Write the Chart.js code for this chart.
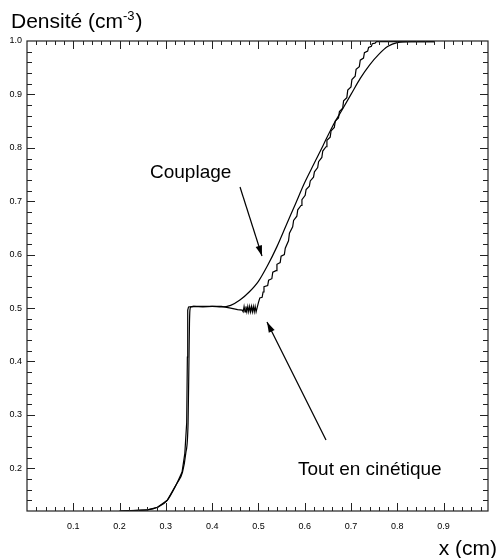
<!DOCTYPE html>
<html>
<head>
<meta charset="utf-8">
<script src="https://cdn.jsdelivr.net/npm/chart.js@4"></script>
<style>
html,body{margin:0;padding:0;background:#fff;}
canvas{display:block;}
</style>
</head>
<body>
<canvas id="densite" width="498" height="558"></canvas>
<script>
// courbe "Couplage" (lisse)
const couplageX = [0.20,0.26,0.282,0.303,0.324,0.336,0.343,0.348,0.350,0.351,0.352,0.354,0.36,0.38,0.40,0.42,0.44,0.46,0.48,0.50,0.52,0.54,0.56,0.58,0.60,0.62,0.64,0.66,0.68,0.70,0.72,0.74,0.76,0.78,0.80,0.83,0.88];
const couplageY = [0.12,0.122,0.127,0.140,0.172,0.193,0.228,0.285,0.408,0.47,0.496,0.502,0.503,0.503,0.503,0.502,0.505,0.515,0.53,0.55,0.58,0.615,0.655,0.695,0.735,0.77,0.805,0.84,0.87,0.90,0.93,0.955,0.975,0.99,0.997,0.999,0.999];

// courbe "Tout en cinétique" (en escalier)
const cinetiqueX = [0.20,0.26,0.282,0.303,0.324,0.335,0.341,0.345,0.3465,0.347,0.3475,0.349,0.36,0.38,0.40,0.42,0.44,0.455,0.465,
  0.467,0.469,0.471,0.473,0.475,0.477,0.479,0.481,0.483,0.485,0.487,0.489,0.491,0.493,0.495,0.497,
  0.500,0.503,0.508,0.510,0.512,0.520,0.522,0.529,0.531,0.538,0.540,0.547,0.549,0.556,0.558,0.565,0.567,0.574,0.576,0.583,0.585,0.592,0.594,
  0.601,0.603,0.610,0.612,0.619,0.621,0.628,0.630,0.637,0.639,0.646,0.648,0.655,0.657,0.664,0.666,0.673,0.675,0.682,0.684,0.691,0.693,
  0.700,0.702,0.709,0.711,0.718,0.720,0.727,0.729,0.736,0.738,0.744,0.746,0.752,0.755,0.80,0.88];
const cinetiqueY = [0.12,0.122,0.127,0.140,0.172,0.193,0.228,0.285,0.408,0.47,0.496,0.502,0.503,0.502,0.503,0.503,0.500,0.497,0.496,
  0.493,0.503,0.493,0.503,0.493,0.503,0.493,0.503,0.493,0.503,0.493,0.503,0.493,0.503,0.493,0.500,
  0.510,0.519,0.520,0.530,0.540,0.542,0.552,0.555,0.567,0.570,0.582,0.585,0.597,0.600,0.612,0.626,0.640,0.652,0.664,0.672,0.684,0.692,0.703,
  0.711,0.722,0.728,0.738,0.745,0.755,0.763,0.774,0.782,0.794,0.802,0.814,0.820,0.832,0.838,0.850,0.856,0.868,0.874,0.888,0.894,0.908,
  0.914,0.928,0.934,0.947,0.952,0.964,0.968,0.978,0.981,0.988,0.990,0.995,0.996,0.999,0.999,0.999];

const xLabels = ["0.1","0.2","0.3","0.4","0.5","0.6","0.7","0.8","0.9"];
const yLabels = ["0.2","0.3","0.4","0.5","0.6","0.7","0.8","0.9","1.0"];

function pts(xs, ys){
  return xs.map((x,i)=>({x:x, y:ys[i]}));
}

const police = "'Liberation Sans', Arial, sans-serif";

// cadre, graduations vers l'interieur, textes et fleches
const decor = {
  id:"decor",
  afterDraw(chart){
    const c = chart.ctx;
    const a = chart.chartArea;
    const sx = chart.scales.x, sy = chart.scales.y;
    c.save();
    c.strokeStyle = "#222";
    c.lineWidth = 1.2;
    c.strokeRect(a.left, a.top, a.right-a.left, a.bottom-a.top);
    c.lineWidth = 1;
    c.beginPath();
    for(let i=1;i<50;i++){
      let px = Math.round(sx.getPixelForValue(i*0.02))+0.5;
      if(px>a.right-1) break;
      let l = (i%5==0) ? 8 : 4;
      c.moveTo(px,a.bottom); c.lineTo(px,a.bottom-l);
      c.moveTo(px,a.top); c.lineTo(px,a.top+l);
    }
    for(let i=7;i<50;i++){
      let py = Math.round(sy.getPixelForValue(i*0.02))+0.5;
      if(py<a.top+1) break;
      let l = (i%5==0) ? 8 : 5;
      c.moveTo(a.left,py); c.lineTo(a.left+l,py);
      c.moveTo(a.right,py); c.lineTo(a.right-l,py);
    }
    c.stroke();

    // textes
    c.fillStyle = "#000";
    c.textBaseline = "alphabetic";
    c.font = "21px " + police;
    c.textAlign = "left";
    let t = "Densité (cm";
    c.fillText(t, 11, 28);
    let w = c.measureText(t).width;
    c.font = "13px " + police;
    c.fillText("-3", 11+w, 20);
    let w2 = c.measureText("-3").width;
    c.font = "21px " + police;
    c.fillText(")", 11+w+w2+1, 28);

    c.font = "21px " + police;
    c.textAlign = "right";
    c.fillText("x (cm)", 497, 555);
    c.font = "19px " + police;
    c.textAlign = "left";
    c.fillText("Couplage", 150, 178);
    c.fillText("Tout en cinétique", 298, 475);

    // fleches
    fleche(c, 240, 187, 262, 256);
    fleche(c, 326, 440, 267, 322);
    c.restore();
  }
};

function fleche(c, x1, y1, x2, y2){
  c.strokeStyle = "#000";
  c.lineWidth = 1.2;
  c.beginPath();
  c.moveTo(x1,y1); c.lineTo(x2,y2);
  c.stroke();
  let ang = Math.atan2(y2-y1, x2-x1);
  let L = 11, W = 0.3;
  c.beginPath();
  c.moveTo(x2,y2);
  c.lineTo(x2-L*Math.cos(ang-W), y2-L*Math.sin(ang-W));
  c.lineTo(x2-L*Math.cos(ang+W), y2-L*Math.sin(ang+W));
  c.closePath();
  c.fillStyle = "#000";
  c.fill();
}

const ctx = document.getElementById("densite").getContext("2d");
const densiteChart = new Chart(ctx, {
  type: "scatter",
  data: {
    datasets: [{
      label: "Couplage",
      data: pts(couplageX, couplageY),
      showLine: true,
      borderColor: "#000",
      borderWidth: 1.2,
      pointRadius: 0,
      cubicInterpolationMode: "monotone"
    },{
      label: "Tout en cinétique",
      data: pts(cinetiqueX, cinetiqueY),
      showLine: true,
      borderColor: "#000",
      borderWidth: 1.2,
      pointRadius: 0,
      tension: 0
    }]
  },
  options: {
    responsive: false,
    animation: false,
    devicePixelRatio: 1,
    layout: { padding: { top: 41, right: 1, left: 0, bottom: 0 } },
    plugins: {
      legend: { display: false },
      tooltip: { enabled: false }
    },
    scales: {
      x: {
        type: "linear",
        min: 0, max: 0.996,
        grid: { display: false, drawTicks: false, tickLength: 0 },
        border: { display: false },
        afterFit: s => { s.height = 47; },
        ticks: {
          stepSize: 0.1,
          padding: 10,
          maxRotation: 0,
          autoSkip: false,
          color: "#000",
          font: { size: 9, family: police },
          callback: v => { let s = (+v).toFixed(1); return xLabels.includes(s) && Math.abs(v*10-Math.round(v*10))<1e-6 ? s : ""; }
        }
      },
      y: {
        type: "linear",
        min: 0.12, max: 1.0,
        grid: { display: false, drawTicks: false, tickLength: 0 },
        border: { display: false },
        afterFit: s => { s.width = 27; },
        ticks: {
          stepSize: 0.1,
          padding: 5,
          autoSkip: false,
          color: "#000",
          font: { size: 9, family: police },
          callback: v => { let s = (+v).toFixed(1); return yLabels.includes(s) && Math.abs(v*10-Math.round(v*10))<1e-6 ? s : ""; }
        }
      }
    }
  },
  plugins: [decor]
});
</script>
</body>
</html>
